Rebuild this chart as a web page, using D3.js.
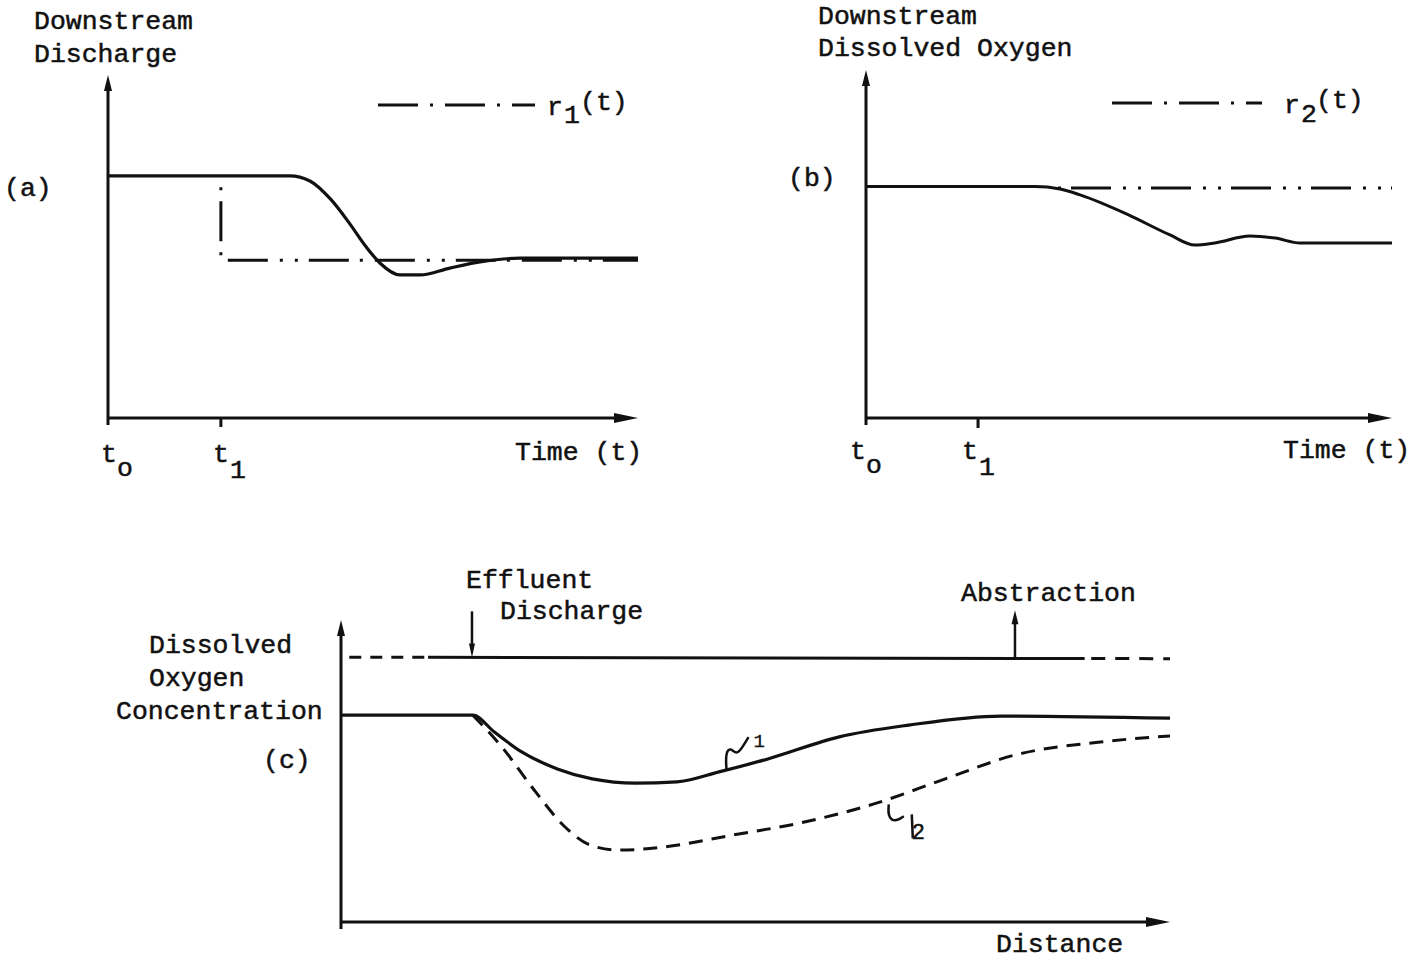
<!DOCTYPE html>
<html>
<head>
<meta charset="utf-8">
<script src="https://cdn.jsdelivr.net/npm/d3@7"></script>
<style>
body{margin:0;background:#fff}
text{font-family:'Liberation Mono','Courier New',monospace;font-size:26.5px;fill:#111;stroke:#111;stroke-width:0.5px}
</style>
</head>
<body>
<div id="chart-area"></div>
<script>
// panel (a) downstream discharge
const timeA = [0, 34.3, 38.1, 42.0, 45.5, 48.7, 51.3, 55.1, 58.9, 64.5, 70.2, 77.7, 100]
const dischargeA = [70.6, 70.6, 69.1, 63.8, 56.9, 49.9, 45.2, 41.7, 41.7, 43.7, 45.5, 46.6, 46.6]
const refTimeA = [21.3, 21.3, 100]
const refA = [67.3, 46.0, 46.0]

// panel (b) downstream dissolved oxygen
const timeB = [0, 32.1, 36.9, 40.7, 50.0, 57.8, 62.5, 66.3, 73.0, 77.8, 82.5, 100]
const oxygenB = [66.5, 66.5, 65.8, 64.1, 58.3, 52.6, 49.7, 50.3, 52.3, 51.7, 50.3, 50.3]
const refTimeB = [36.5, 100]
const refB = [66.1, 66.1]

// panel (c) dissolved oxygen along the river
const distC1 = [0, 15.9, 18.5, 21.8, 26.1, 30.3, 35.5, 40.5, 45.6, 51.5, 60.1, 68.5, 79.6, 100]
const doC1 = [68.5, 68.5, 62.9, 56.3, 50.7, 47.4, 46.0, 46.4, 49.7, 54.0, 61.3, 65.2, 68.2, 67.5]
const distC2 = [15.9, 19.3, 23.5, 26.9, 30.3, 33.7, 38.8, 47.3, 55.9, 64.3, 72.9, 81.3, 91.6, 100]
const doC2 = [68.5, 58.3, 43.0, 31.8, 25.2, 23.8, 24.8, 28.8, 33.1, 39.1, 47.4, 55.3, 59.6, 61.6]
const surfaceC = [87.7, 87.2]
const effluentAt = 15.8
const abstractionAt = 81.3
const t1At = 21.3

const svg = d3.select('#chart-area')
.append('svg')
.attr('width',1425)
.attr('height',962)

const DASHDOT = '40 12 3 12'

function arrowHead(g, x, y, dir, len, half) {
	// dir: 'up', 'down', 'right'
	let pts
	if(dir === 'up') pts = [[x,y],[x-half,y+len],[x+half,y+len]]
	if(dir === 'down') pts = [[x,y],[x-half,y-len],[x+half,y-len]]
	if(dir === 'right') pts = [[x,y],[x-len,y-half],[x-len,y+half]]
	g.append('path')
	.attr('d','M'+pts.map(p=>p.join(',')).join('L')+'Z')
	.attr('fill','#111')
}

function axes(g, x, y) {
	const [x0,x1] = x.range()
	const [y0,y1] = y.range()
	g.append('line')
	.attr('x1',x0).attr('x2',x0).attr('y1',y0+7).attr('y2',y1+8)
	.attr('stroke','#111').attr('stroke-width',3)
	g.append('line')
	.attr('x1',x0).attr('x2',x1-12).attr('y1',y0).attr('y2',y0)
	.attr('stroke','#111').attr('stroke-width',3)
	arrowHead(g, x0, y1, 'up', 16, 4)
	arrowHead(g, x1, y0, 'right', 24, 5)
}

function sub(g, x, y, main, small, dx, dy) {
	g.append('text').attr('x',x).attr('y',y).text(main)
	g.append('text').attr('x',x+dx).attr('y',y+dy).text(small)
}

const line = (x,y) => d3.line().x(d=>x(d[0])).y(d=>y(d[1])).curve(d3.curveMonotoneX)

// ---------- (a)
{
	const g = svg.append('g')
	const x = d3.scaleLinear().domain([0,100]).range([108,638])
	const y = d3.scaleLinear().domain([0,100]).range([418,75])
	axes(g,x,y)

	g.append('line')
	.attr('x1',x(t1At)).attr('x2',x(t1At)).attr('y1',y(0)).attr('y2',y(0)+9)
	.attr('stroke','#111').attr('stroke-width',3)

	g.append('path')
	.attr('d',d3.line().x(d=>x(d[0])).y(d=>y(d[1]))(d3.zip(refTimeA,refA)))
	.attr('fill','none').attr('stroke','#111').attr('stroke-width',3)
	.attr('stroke-dasharray','3 11 40 11 3 12 40 12 3 12')

	g.append('path')
	.attr('d',line(x,y)(d3.zip(timeA,dischargeA)))
	.attr('fill','none').attr('stroke','#111').attr('stroke-width',3.2)

	g.append('line')
	.attr('x1',378).attr('x2',535).attr('y1',105).attr('y2',105)
	.attr('stroke','#111').attr('stroke-width',3).attr('stroke-dasharray',DASHDOT)
	sub(g,547,115,'r','1',17,8)
	g.append('text').attr('x',580).attr('y',110).text('(t)')

	g.append('text').attr('x',34).attr('y',29).text('Downstream')
	g.append('text').attr('x',34).attr('y',62).text('Discharge')
	g.append('text').attr('x',4).attr('y',196).text('(a)')
	sub(g,101,462,'t','o',16,14)
	sub(g,213,462,'t','1',17,16)
	g.append('text').attr('x',515).attr('y',460).text('Time (t)')
}

// ---------- (b)
{
	const g = svg.append('g')
	const x = d3.scaleLinear().domain([0,100]).range([866,1392])
	const y = d3.scaleLinear().domain([0,100]).range([418,70])
	axes(g,x,y)

	g.append('line')
	.attr('x1',x(t1At)).attr('x2',x(t1At)).attr('y1',y(0)).attr('y2',y(0)+10)
	.attr('stroke','#111').attr('stroke-width',3)

	g.append('path')
	.attr('d',d3.line().x(d=>x(d[0])).y(d=>y(d[1]))(d3.zip(refTimeB,refB)))
	.attr('fill','none').attr('stroke','#111').attr('stroke-width',3)
	.attr('stroke-dasharray','3 10 40 12 3 12')

	g.append('path')
	.attr('d',line(x,y)(d3.zip(timeB,oxygenB)))
	.attr('fill','none').attr('stroke','#111').attr('stroke-width',3)

	g.append('line')
	.attr('x1',1112).attr('x2',1262).attr('y1',103).attr('y2',103)
	.attr('stroke','#111').attr('stroke-width',3).attr('stroke-dasharray',DASHDOT)
	sub(g,1284,113,'r','2',17,9)
	g.append('text').attr('x',1316).attr('y',108).text('(t)')

	g.append('text').attr('x',818).attr('y',24).text('Downstream')
	g.append('text').attr('x',818).attr('y',56).text('Dissolved Oxygen')
	g.append('text').attr('x',788).attr('y',186).text('(b)')
	sub(g,850,459,'t','o',16,14)
	sub(g,962,459,'t','1',17,16)
	g.append('text').attr('x',1283).attr('y',458).text('Time (t)')
}

// ---------- (c)
{
	const g = svg.append('g')
	const x = d3.scaleLinear().domain([0,100]).range([341,1170])
	const y = d3.scaleLinear().domain([0,100]).range([922,620])
	axes(g,x,y)

	// river surface: dashed outside the reach, solid inside
	const surf = d3.scaleLinear().domain([0,100]).range(surfaceC)
	const seg = (a,b,dash) => g.append('line')
		.attr('x1',x(a)).attr('x2',x(b)).attr('y1',y(surf(a))).attr('y2',y(surf(b)))
		.attr('stroke','#111').attr('stroke-width',3).attr('stroke-dasharray',dash)
	seg(1,10.5,'12 9')
	seg(10.5,89.7,null)
	seg(90.5,100,'14 10')

	// effluent (in) and abstraction (out) arrows
	g.append('line')
	.attr('x1',x(effluentAt)).attr('x2',x(effluentAt)).attr('y1',y(surf(effluentAt))-46).attr('y2',y(surf(effluentAt))-10)
	.attr('stroke','#111').attr('stroke-width',2.5)
	arrowHead(g,x(effluentAt),y(surf(effluentAt)),'down',14,3)
	g.append('line')
	.attr('x1',x(abstractionAt)).attr('x2',x(abstractionAt)).attr('y1',y(surf(abstractionAt))).attr('y2',y(surf(abstractionAt))-36)
	.attr('stroke','#111').attr('stroke-width',2.5)
	arrowHead(g,x(abstractionAt),y(surf(abstractionAt))-48,'up',14,3.5)

	g.append('path')
	.attr('d',line(x,y)(d3.zip(distC2,doC2)))
	.attr('fill','none').attr('stroke','#111').attr('stroke-width',3)
	.attr('stroke-dasharray','14 9')

	g.append('path')
	.attr('d',line(x,y)(d3.zip(distC1,doC1)))
	.attr('fill','none').attr('stroke','#111').attr('stroke-width',3.2)

	// curve tags 1 and 2
	const p1 = [x(46.5), y(50.6)]
	g.append('path')
	.attr('d',d3.line().curve(d3.curveBasis)([[p1[0],p1[1]],[p1[0]-1,p1[1]-16],[p1[0]+4,p1[1]-22],[p1[0]+10,p1[1]-14],[p1[0]+16,p1[1]-22],[p1[0]+22,p1[1]-32]]))
	.attr('fill','none').attr('stroke','#111').attr('stroke-width',2.5)
	g.append('text').attr('x',p1[0]+27).attr('y',p1[1]-22).style('font-size','19px').style('stroke-width','0.3px').text('1')

	const p2 = [x(66.2), y(38.3)]
	g.append('path')
	.attr('d',d3.line().curve(d3.curveBasis)([[p2[0]-1,p2[1]-2],[p2[0]-2,p2[1]+10],[p2[0]+5,p2[1]+16],[p2[0]+14,p2[1]+10]]))
	.attr('fill','none').attr('stroke','#111').attr('stroke-width',2.5)
	g.append('line')
	.attr('x1',p2[0]+22).attr('x2',p2[0]+23).attr('y1',p2[1]+8).attr('y2',p2[1]+32)
	.attr('stroke','#111').attr('stroke-width',2.5)
	g.append('text').attr('x',p2[0]+22).attr('y',p2[1]+33).style('font-size','22px').text('2')

	g.append('text').attr('x',466).attr('y',588).text('Effluent')
	g.append('text').attr('x',500).attr('y',619).text('Discharge')
	g.append('text').attr('x',961).attr('y',601).text('Abstraction')
	g.append('text').attr('x',149).attr('y',653).text('Dissolved')
	g.append('text').attr('x',149).attr('y',686).text('Oxygen')
	g.append('text').attr('x',116).attr('y',719).text('Concentration')
	g.append('text').attr('x',263).attr('y',768).text('(c)')
	g.append('text').attr('x',996).attr('y',952).text('Distance')
}
</script>
</body>
</html>
